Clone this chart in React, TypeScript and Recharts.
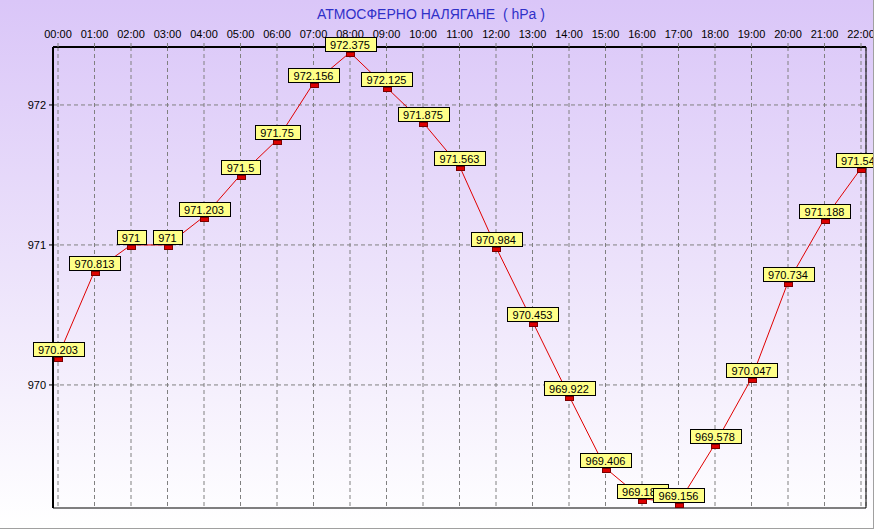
import React from 'react';
import { LineChart, Line, XAxis, YAxis, CartesianGrid, LabelList } from 'recharts';

const hours = [
    '00:00', '01:00', '02:00', '03:00', '04:00', '05:00', '06:00', '07:00',
    '08:00', '09:00', '10:00', '11:00', '12:00', '13:00', '14:00', '15:00',
    '16:00', '17:00', '18:00', '19:00', '20:00', '21:00', '22:00',
];

const pressure = [
    970.203, 970.813, 971, 971, 971.203, 971.5, 971.75, 972.156,
    972.375, 972.125, 971.875, 971.563, 970.984, 970.453, 969.922, 969.406,
    969.188, 969.156, 969.578, 970.047, 970.734, 971.188, 971.547,
];

const yLabels = [970, 971, 972];
const yMinorTicks = [969.25, 969.5, 969.75, 970, 970.25, 970.5, 970.75, 971, 971.25, 971.5, 971.75, 972, 972.25];

const data = hours.map((time, i) => ({ time, value: pressure[i] }));

const FONT = '"Liberation Sans", Arial, sans-serif';

// rough Arial width at 11px
const textWidth = (s: string) =>
    s.split('').reduce((w, c) => w + (c === '.' ? 3.06 : 6.12), 0);

const ValueLabel = (props: any) => {
    const { x, y, value } = props;
    const text = String(value);
    const w = Math.round(textWidth(text) + 11);
    const left = Math.round(x - w / 2) + 0.5;
    const top = Math.round(y) - 15 + 0.5;
    return (
        <g>
            <rect x={left} y={top} width={w} height={14} fill="#ffff88" stroke="#000" strokeWidth={1} />
            <text x={x} y={top + 11} textAnchor="middle" fontSize={11} fontFamily={FONT} fill="#000">
                {text}
            </text>
        </g>
    );
};

const Marker = (props: any) => {
    const { cx, cy } = props;
    if (cx == null || cy == null) return null;
    return (
        <rect
            x={Math.round(cx - 4) + 0.5}
            y={Math.round(cy) + 0.5}
            width={8}
            height={4}
            fill="#dd0000"
            stroke="#7a0000"
            strokeWidth={1}
        />
    );
};

const YTick = (props: any) => {
    const { x, y, payload } = props;
    const major = yLabels.includes(payload.value);
    return (
        <g>
            <line x1={x - (major ? 4 : 1)} x2={x} y1={y} y2={y} stroke="#000" />
            {major && (
                <text x={x - 7} y={y + 4} textAnchor="end" fontSize={11} fontFamily={FONT} fill="#000">
                    {payload.value}
                </text>
            )}
        </g>
    );
};

const PressureChart: React.FC = () => {
    return (
        <div
            style={{
                position: 'absolute',
                left: 0,
                top: 0,
                width: 873,
                height: 528,
                background: 'linear-gradient(to bottom, #dac6f8 0%, #ece2fb 50%, #ffffff 100%)',
                borderRight: '1px solid #a0a0a0',
                borderBottom: '1px solid #a0a0a0',
                overflow: 'hidden',
            }}
        >
            <div
                style={{
                    position: 'absolute',
                    left: 0,
                    top: 6,
                    width: 862,
                    textAlign: 'center',
                    fontFamily: FONT,
                    fontSize: 14,
                    lineHeight: '16px',
                    color: '#3030c8',
                    whiteSpace: 'pre',
                }}
            >
                АТМОСФЕРНО НАЛЯГАНЕ  ( hPa )
            </div>
            <LineChart
                width={874}
                height={529}
                data={data}
                margin={{ top: 0, right: 0, bottom: 0, left: 0 }}
                style={{ position: 'absolute', left: 0, top: 0 }}
            >
                <CartesianGrid
                    stroke="#808080"
                    strokeDasharray="4 3"
                    horizontalValues={yLabels}
                />
                <XAxis
                    dataKey="time"
                    orientation="top"
                    height={47}
                    interval={0}
                    padding={{ left: 5, right: 5 }}
                    axisLine={{ stroke: '#000', strokeWidth: 2 }}
                    tickLine={{ stroke: '#808080' }}
                    tickSize={4}
                    tickMargin={5}
                    tick={{ fill: '#000', fontSize: 11, fontFamily: FONT }}
                />
                <XAxis
                    xAxisId="b"
                    dataKey="time"
                    orientation="bottom"
                    height={21}
                    tick={false}
                    tickLine={false}
                    axisLine={{ stroke: '#000' }}
                />
                <YAxis
                    type="number"
                    domain={[969.121, 972.414]}
                    ticks={yMinorTicks}
                    width={53}
                    interval={0}
                    allowDataOverflow
                    axisLine={{ stroke: '#000', strokeWidth: 2 }}
                    tickLine={false}
                    tickSize={0}
                    tickMargin={0}
                    tick={<YTick />}
                />
                <YAxis
                    yAxisId="r"
                    orientation="right"
                    width={8}
                    domain={[969.121, 972.414]}
                    tick={false}
                    tickLine={false}
                    axisLine={{ stroke: '#000' }}
                />
                <Line
                    type="linear"
                    dataKey="value"
                    stroke="#e00000"
                    strokeWidth={1}
                    dot={<Marker />}
                    activeDot={false}
                    isAnimationActive={false}
                >
                    <LabelList dataKey="value" content={<ValueLabel />} />
                </Line>
            </LineChart>
        </div>
    );
};

export default function App() {
    return <PressureChart />;
}
